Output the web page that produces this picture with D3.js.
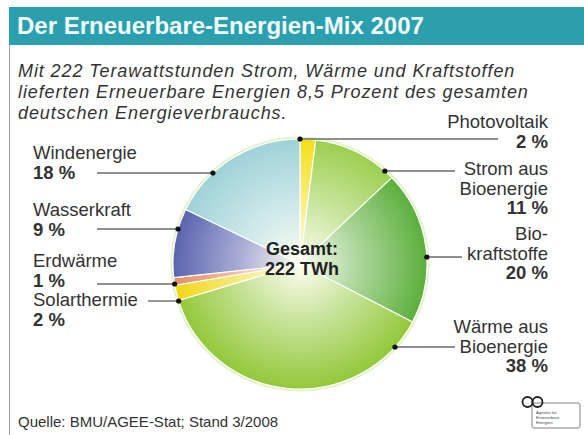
<!DOCTYPE html>
<html>
<head>
<meta charset="utf-8">
<script src="https://cdn.jsdelivr.net/npm/d3@7"></script>
<style>
  body { margin: 0; background: #fff; }
  svg { display: block; font-family: "Liberation Sans", Arial, sans-serif; }
  .label { fill: #333; font-size: 18.5px; }
  .label .pct { font-weight: bold; }
  .leader { stroke: #6a6a6a; stroke-width: 1.4; }
</style>
</head>
<body>
<svg id="chart" width="584" height="435"></svg>
<script>
// slices, clockwise from twelve o'clock
const categories = ["Photovoltaik", "Strom aus Bioenergie", "Biokraftstoffe", "Wärme aus Bioenergie",
                    "Solarthermie", "Erdwärme", "Wasserkraft", "Windenergie"];
const labelLines = [["Photovoltaik"], ["Strom aus", "Bioenergie"], ["Bio-", "kraftstoffe"], ["Wärme aus", "Bioenergie"],
                    ["Solarthermie"], ["Erdwärme"], ["Wasserkraft"], ["Windenergie"]];
const shares = [2, 11, 20, 38, 2, 1, 9, 18];
const sliceColors = ["#f2df1a", "#9ccf4f", "#5caf3c", "#93c83a", "#f1d71a", "#e08f66", "#5b63ae", "#9fd2d6"];

const title = "Der Erneuerbare-Energien-Mix 2007";
const subtitle = ["Mit 222 Terawattstunden Strom, Wärme und Kraftstoffen",
                  "lieferten Erneuerbare Energien 8,5 Prozent des gesamten",
                  "deutschen Energieverbrauchs."];
const centerText = ["Gesamt:", "222 TWh"];
const source = "Quelle: BMU/AGEE-Stat; Stand 3/2008";

// where each label sits (first baseline, leader height, leader end)
const labelLayout = [
  { side: "right", y0: 128, ly: 139, end: 498 },
  { side: "right", y0: 175, ly: 171, end: 455 },
  { side: "right", y0: 240, ly: 257, end: 462 },
  { side: "right", y0: 333, ly: 347, end: 455 },
  { side: "left",  y0: 306, ly: 301, end: 148 },
  { side: "left",  y0: 267, ly: 284, end: 97 },
  { side: "left",  y0: 216, ly: 229, end: 97 },
  { side: "left",  y0: 159, ly: 173, end: 97 }
];

const svg = d3.select("#chart");
const cx = 300, cy = 264, radius = 125, stretch = 1.016;
const lineH = 19.5;

// frame: teal header and thin grey edge
svg.append("line")
  .attr("x1", 9.5).attr("x2", 9.5).attr("y1", 45).attr("y2", 435)
  .attr("stroke", "#a0a0a0").attr("stroke-width", 1);
svg.append("rect")
  .attr("x", 9).attr("y", 7).attr("width", 575).attr("height", 38)
  .attr("fill", "#2a9fae");
svg.append("text")
  .attr("x", 17).attr("y", 34)
  .attr("fill", "#f2fbfb")
  .attr("font-size", 24).attr("font-weight", "bold")
  .text(title);

svg.append("g").selectAll("text")
  .data(subtitle)
  .join("text")
    .attr("x", 18)
    .attr("y", (d, i) => 77 + i * 21)
    .attr("fill", "#333")
    .attr("font-size", 18).attr("font-style", "italic")
    .attr("letter-spacing", 0.9)
    .text(d => d);

// radial gradients, one per slice, pale in the middle
const defs = svg.append("defs");
sliceColors.forEach(function(c, i) {
  let g = defs.append("radialGradient")
    .attr("id", "grad" + i)
    .attr("gradientUnits", "userSpaceOnUse")
    .attr("cx", 0).attr("cy", 0).attr("r", radius);
  g.append("stop").attr("offset", 0).attr("stop-color", "#fdfdf0");
  g.append("stop").attr("offset", 0.45).attr("stop-color", d3.interpolateRgb(c, "#fff")(0.5));
  g.append("stop").attr("offset", 1).attr("stop-color", c);
});

const pie = d3.pie().sort(null).value(d => d);
const arcs = pie(shares);
const arc = d3.arc().innerRadius(0).outerRadius(radius);

const pieG = svg.append("g")
  .attr("transform", `translate(${cx},${cy}) scale(${stretch},1)`);

pieG.append("circle")
  .attr("r", radius + 1.5)
  .attr("fill", "none")
  .attr("stroke", "#e4f2c8").attr("stroke-width", 2);

pieG.selectAll("path")
  .data(arcs)
  .join("path")
    .attr("d", arc)
    .attr("fill", (d, i) => `url(#grad${i})`)
    .attr("stroke", "#ffffff").attr("stroke-width", 1.1)
    .attr("stroke-linejoin", "round");

// leaders: horizontal line from the label to the pie rim, dot at the rim
function rimX(L) {
  let dy = L.ly - cy;
  let dx = Math.sqrt(Math.max(0, radius * radius - dy * dy)) * stretch;
  return L.side === "right" ? cx + dx : cx - dx;
}

const labels = svg.append("g").selectAll("g")
  .data(categories.map((c, i) => ({ name: c, lines: labelLines[i], v: shares[i], L: labelLayout[i] })))
  .join("g");

labels.append("line")
  .attr("class", "leader")
  .attr("x1", d => d.L.end).attr("x2", d => rimX(d.L))
  .attr("y1", d => d.L.ly).attr("y2", d => d.L.ly);

labels.append("circle")
  .attr("cx", d => rimX(d.L)).attr("cy", d => d.L.ly)
  .attr("r", 2.6).attr("fill", "#111");

labels.each(function(d) {
  let right = d.L.side === "right";
  let t = d3.select(this).append("text")
    .attr("class", "label")
    .attr("text-anchor", right ? "end" : "start");
  let x = right ? 548 : 33;
  d.lines.forEach(function(s, k) {
    t.append("tspan").attr("x", x).attr("y", d.L.y0 + k * lineH).text(s);
  });
  t.append("tspan")
    .attr("class", "pct")
    .attr("x", x).attr("y", d.L.y0 + d.lines.length * lineH)
    .text(d.v + " %");
});

// total in the middle
svg.append("g").selectAll("text")
  .data(centerText)
  .join("text")
    .attr("x", 302).attr("y", (d, i) => 255 + i * 20)
    .attr("text-anchor", "middle")
    .attr("fill", "#222")
    .attr("font-size", 18).attr("font-weight", "bold")
    .text(d => d);

svg.append("text")
  .attr("x", 18).attr("y", 427)
  .attr("fill", "#333").attr("font-size", 15)
  .text(source);

// small agency logo, bottom right
const logo = svg.append("g").attr("transform", "translate(522,395)");
logo.append("rect")
  .attr("x", 10).attr("y", 8).attr("width", 48).attr("height", 25).attr("rx", 2)
  .attr("fill", "#fff").attr("stroke", "#666").attr("stroke-width", 0.8);
logo.selectAll("circle")
  .data([5.5, 15.5])
  .join("circle")
    .attr("cx", d => d).attr("cy", 7).attr("r", 5)
    .attr("fill", "none").attr("stroke", "#222").attr("stroke-width", 1.8);
logo.selectAll("text")
  .data(["Agentur für", "Erneuerbare", "Energien"])
  .join("text")
    .attr("x", 14).attr("y", (d, i) => 19 + i * 5)
    .attr("font-size", 4.2).attr("fill", "#444")
    .text(d => d);
</script>
</body>
</html>
